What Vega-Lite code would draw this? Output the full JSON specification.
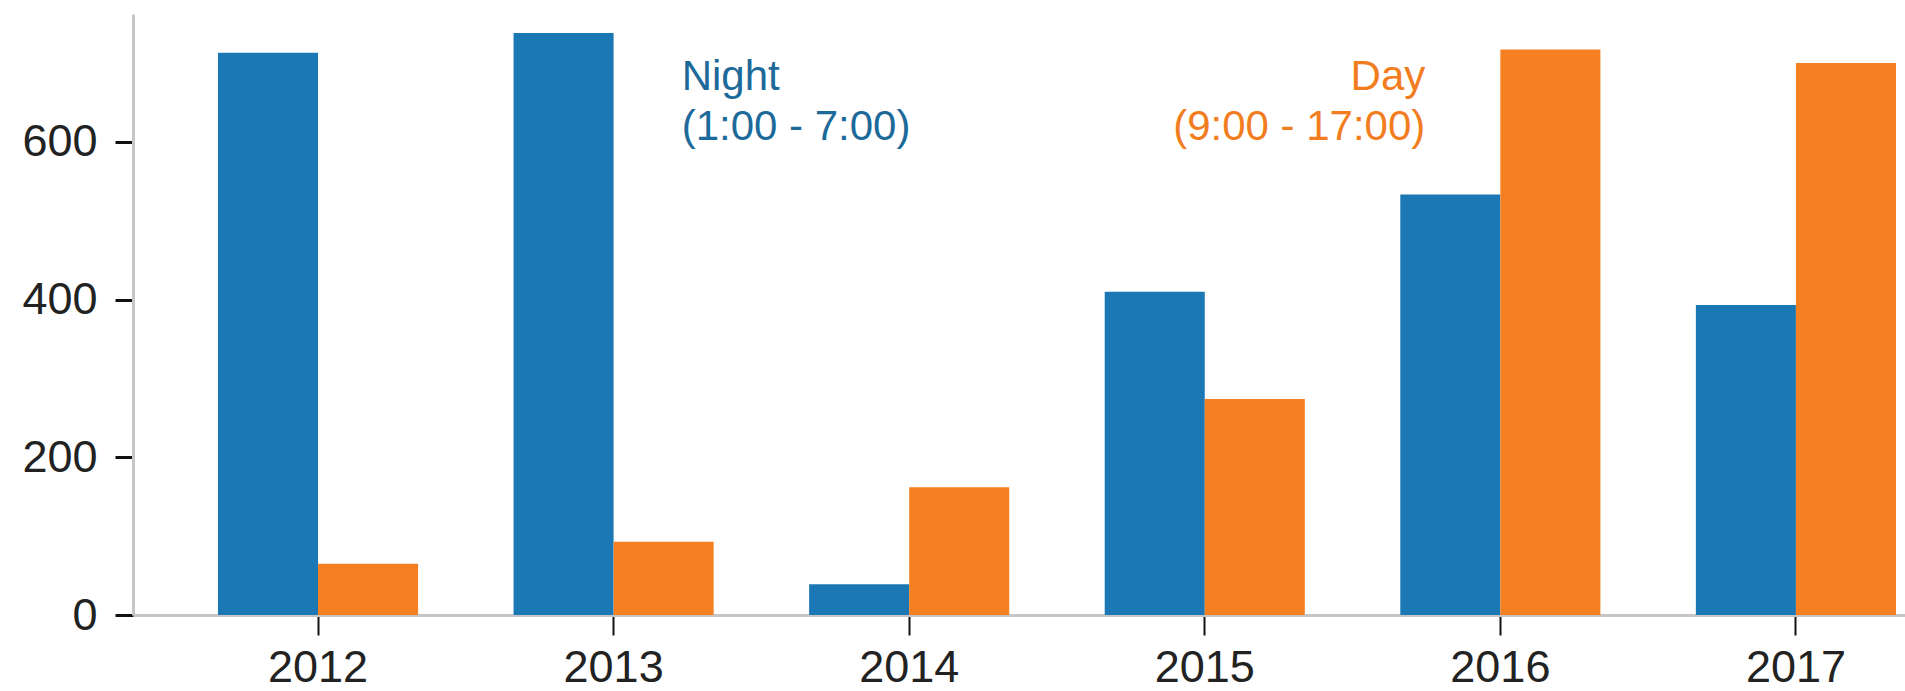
{
  "$schema": "https://vega.github.io/schema/vega-lite/v6.json",
  "autosize": {"type": "none"},
  "padding": {"left": 133, "top": 14, "right": 0, "bottom": 76},
  "width": 1772,
  "height": 601,
  "background": "white",
  "config": {
    "view": {"stroke": null},
    "font": "Liberation Sans"
  },
  "datasets": {
    "bars": [
      {"year": "2012", "series": "Night", "value": 713},
      {"year": "2012", "series": "Day", "value": 65},
      {"year": "2013", "series": "Night", "value": 738},
      {"year": "2013", "series": "Day", "value": 93},
      {"year": "2014", "series": "Night", "value": 39},
      {"year": "2014", "series": "Day", "value": 162},
      {"year": "2015", "series": "Night", "value": 410},
      {"year": "2015", "series": "Day", "value": 274},
      {"year": "2016", "series": "Night", "value": 533},
      {"year": "2016", "series": "Day", "value": 717},
      {"year": "2017", "series": "Night", "value": 393},
      {"year": "2017", "series": "Day", "value": 700}
    ],
    "notes": [
      {"year": "2013", "series": "Night", "value": 708, "label": ["Night", "(1:00 - 7:00)"]},
      {"year": "2016", "series": "Day", "value": 708, "label": ["Day", "(9:00 - 17:00)"]}
    ]
  },
  "layer": [
    {
      "data": {"name": "bars"},
      "mark": {"type": "bar"},
      "encoding": {
        "x": {
          "field": "year",
          "type": "nominal",
          "sort": ["2012", "2013", "2014", "2015", "2016", "2017"],
          "scale": {"type": "band", "paddingInner": 0.323, "paddingOuter": 0.159, "align": 0.904},
          "axis": {
            "title": null,
            "labelAngle": 0,
            "labelFontSize": 45,
            "labelColor": "#222222",
            "labelPadding": 10,
            "tickSize": 20,
            "tickWidth": 2,
            "tickColor": "#111111",
            "domainColor": "#c6c6c6",
            "domainWidth": 3,
            "grid": false
          }
        },
        "xOffset": {
          "field": "series",
          "type": "nominal",
          "sort": ["Night", "Day"],
          "scale": {"paddingInner": 0, "paddingOuter": 0}
        },
        "y": {
          "field": "value",
          "type": "quantitative",
          "scale": {"domain": [0, 762], "nice": false},
          "axis": {
            "title": null,
            "values": [0, 200, 400, 600],
            "labelFontSize": 45,
            "labelColor": "#222222",
            "labelPadding": 18,
            "tickSize": 18,
            "tickWidth": 3,
            "tickColor": "#111111",
            "domainColor": "#c6c6c6",
            "domainWidth": 3,
            "grid": false
          }
        },
        "color": {
          "field": "series",
          "type": "nominal",
          "scale": {"domain": ["Night", "Day"], "range": ["#1b78b4", "#f58021"]},
          "legend": null
        }
      }
    },
    {
      "data": {"name": "notes"},
      "transform": [{"filter": "datum.series === 'Night'"}],
      "mark": {"type": "text", "align": "left", "baseline": "top", "fontSize": 42, "lineHeight": 50, "color": "#1d6a9a"},
      "encoding": {
        "x": {"field": "year", "type": "nominal", "bandPosition": 0.84},
        "y": {"field": "value", "type": "quantitative"},
        "text": {"field": "label"}
      }
    },
    {
      "data": {"name": "notes"},
      "transform": [{"filter": "datum.series === 'Day'"}],
      "mark": {"type": "text", "align": "right", "baseline": "top", "fontSize": 42, "lineHeight": 50, "color": "#f27d20"},
      "encoding": {
        "x": {"field": "year", "type": "nominal", "bandPosition": 0.125},
        "y": {"field": "value", "type": "quantitative"},
        "text": {"field": "label"}
      }
    }
  ]
}
